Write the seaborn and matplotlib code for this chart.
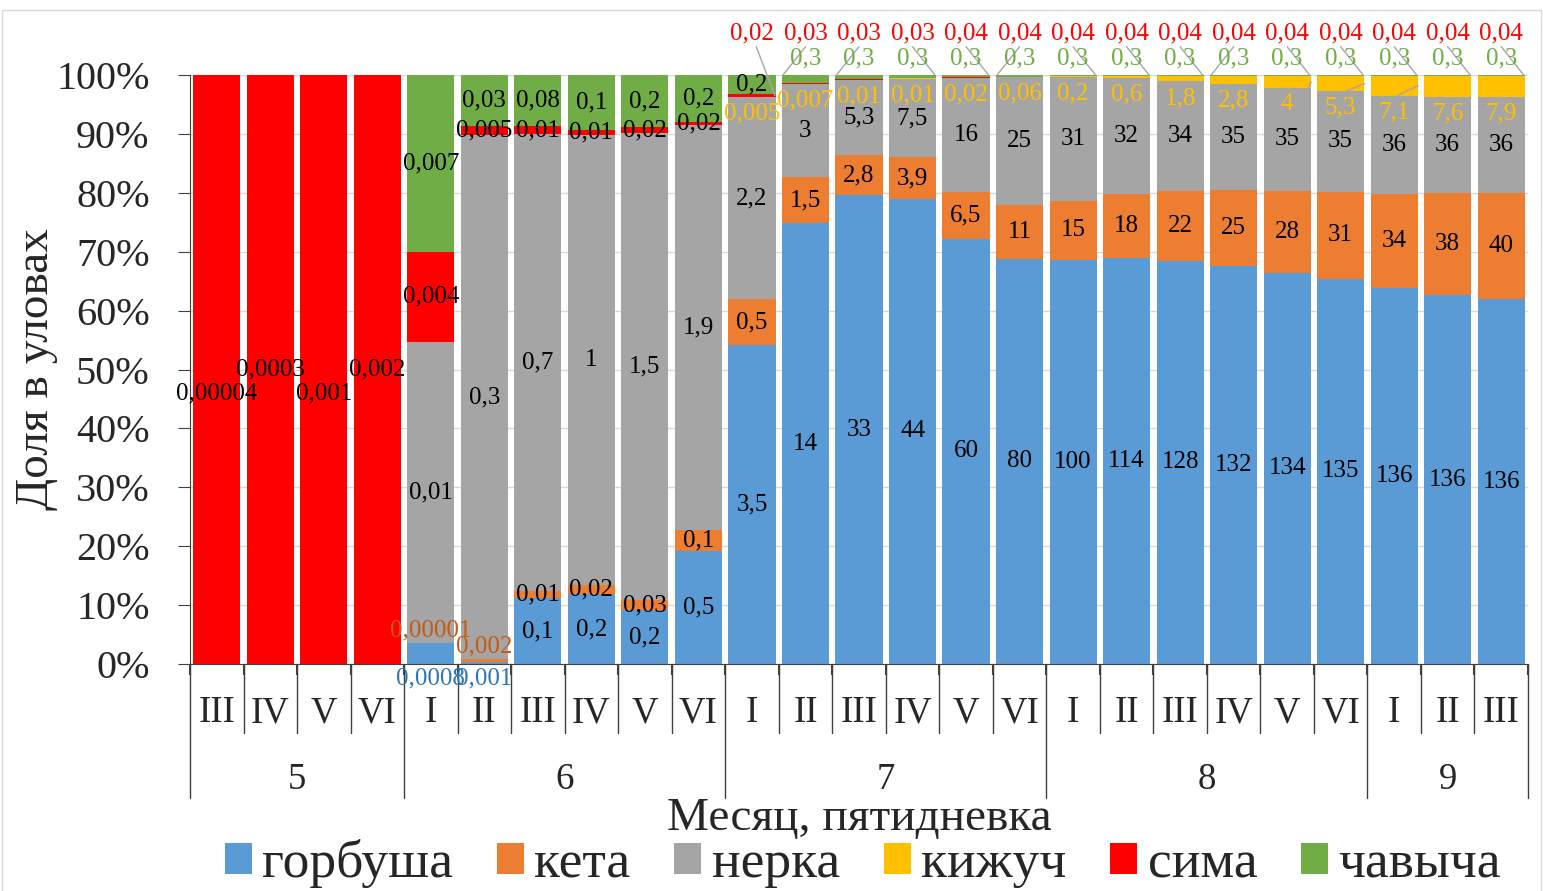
import numpy as np
import pandas as pd
import matplotlib
matplotlib.use("Agg")
import matplotlib.pyplot as plt
from matplotlib.patches import Patch, Rectangle
from matplotlib.ticker import PercentFormatter
import seaborn as sns

# месяц и пятидневка для каждого столбца
months = ["5"] * 4 + ["6"] * 6 + ["7"] * 6 + ["8"] * 6 + ["9"] * 3
pentads = ["III", "IV", "V", "VI",
           "I", "II", "III", "IV", "V", "VI",
           "I", "II", "III", "IV", "V", "VI",
           "I", "II", "III", "IV", "V", "VI",
           "I", "II", "III"]

species = ["горбуша", "кета", "нерка", "кижуч", "сима", "чавыча"]
colors = ["#5B9BD5", "#ED7D31", "#A5A5A5", "#FFC000", "#FF0000", "#70AD47"]

# доля в уловах, % (высота сегментов)
share_gorbusha = [0, 0, 0, 0, 3.5, 0.4, 11.2, 11.9, 9.1, 19.2,
                  54.2, 74.8, 79.6, 79.0, 72.2, 68.8,
                  68.6, 69.0, 68.5, 67.6, 66.4, 65.4, 63.8, 62.6, 61.9]
share_keta = [0, 0, 0, 0, 0.05, 0.45, 1.2, 1.5, 1.8, 3.6,
              7.7, 7.8, 6.8, 7.0, 7.9, 9.1,
              10.0, 10.8, 11.8, 12.8, 13.9, 14.8, 16.0, 17.3, 18.1]
share_nerka = [0, 0, 0, 0, 51.15, 88.95, 77.6, 76.4, 79.2, 68.7,
               34.3, 15.8, 12.8, 13.4, 19.45, 21.75,
               21.05, 19.64, 18.6, 18.0, 17.5, 17.07, 16.7, 16.4, 16.2]
share_kizhuch = [0, 0, 0, 0, 0, 0, 0, 0, 0, 0,
                 0.1, 0.05, 0.03, 0.02, 0.02, 0.05,
                 0.14, 0.36, 0.92, 1.43, 2.03, 2.56, 3.33, 3.54, 3.64]
share_sima = [100, 100, 100, 100, 15.3, 1.5, 1.3, 0.9, 1.0, 0.5,
              0.4, 0.15, 0.07, 0.05, 0.05, 0.04,
              0.03, 0.02, 0.02, 0.02, 0.02, 0.02, 0.02, 0.02, 0.02]
share_chavycha = [0, 0, 0, 0, 30, 8.7, 8.7, 9.3, 8.9, 8.0,
                  3.3, 1.4, 0.7, 0.53, 0.38, 0.26,
                  0.18, 0.18, 0.16, 0.15, 0.15, 0.15, 0.14, 0.14, 0.14]

# подписи данных (улов)
lab_gorbusha = [None] * 4 + ["0,0008", "0,001", "0,1", "0,2", "0,2", "0,5",
                             "3,5", "14", "33", "44", "60", "80",
                             "100", "114", "128", "132", "134", "135", "136", "136", "136"]
lab_keta = [None] * 4 + ["0,00001", "0,002", "0,01", "0,02", "0,03", "0,1",
                         "0,5", "1,5", "2,8", "3,9", "6,5", "11",
                         "15", "18", "22", "25", "28", "31", "34", "38", "40"]
lab_nerka = [None] * 4 + ["0,01", "0,3", "0,7", "1", "1,5", "1,9",
                          "2,2", "3", "5,3", "7,5", "16", "25",
                          "31", "32", "34", "35", "35", "35", "36", "36", "36"]
lab_kizhuch = [None] * 10 + ["0,005", "0,007", "0,01", "0,01", "0,02", "0,06",
                             "0,2", "0,6", "1,8", "2,8", "4", "5,3", "7,1", "7,6", "7,9"]
lab_sima = ["0,00004", "0,0003", "0,001", "0,002",
            "0,004", "0,005", "0,01", "0,01", "0,02", "0,02",
            "0,02", "0,03", "0,03", "0,03", "0,04", "0,04",
            "0,04", "0,04", "0,04", "0,04", "0,04", "0,04", "0,04", "0,04", "0,04"]
lab_chavycha = [None] * 4 + ["0,007", "0,03", "0,08", "0,1", "0,2", "0,2",
                             "0,2"] + ["0,3"] * 14

# к какому краю столбца идёт выноска подписи чавычи (с 7-II)
leader_side = [-1, -1, 1, 1, -1, 1, 1, 1, -1, 1, 1, 1, 1, 1]
# выноски подписей кижуча: столбец -> сдвиг начала выноски
kizhuch_leader = {20: 0.39, 21: 0.11, 22: 0.06}

shares = [share_gorbusha, share_keta, share_nerka, share_kizhuch, share_sima, share_chavycha]
labels = [lab_gorbusha, lab_keta, lab_nerka, lab_kizhuch, lab_sima, lab_chavycha]

period = [m + "-" + p for m, p in zip(months, pentads)]
df = pd.DataFrame(dict(zip(species, shares)))
df = df.div(df.sum(axis=1), axis=0)
cum = df.cumsum(axis=1)
df["период"] = period
n = len(period)

sns.set_style("white")
plt.rcParams["font.family"] = ["Liberation Serif", "DejaVu Serif"]

fig, ax = plt.subplots(figsize=(15.43, 8.91), dpi=100)
fig.subplots_adjust(left=190 / 1543, right=1528 / 1543, bottom=(891 - 664) / 891, top=(891 - 75) / 891)

# накопленные доли, от верхнего слоя к нижнему
for sp, col in reversed(list(zip(species, colors))):
    sns.barplot(x=df["период"], y=cum[sp], color=col, saturation=1, width=0.88,
                errorbar=None, edgecolor="none", linewidth=0, ax=ax)

ax.set_xlim(-0.5, n - 0.5)
ax.set_ylim(0, 1)
ax.set_yticks(np.arange(0, 1.01, 0.1))
ax.yaxis.set_major_formatter(PercentFormatter(1.0, decimals=0))
ax.tick_params(axis="y", labelsize=29, length=9, pad=20, color="#404040", direction="out", left=True)
ax.yaxis.grid(True, color="#D9D9D9", lw=1)
ax.set_axisbelow(True)
sns.despine(ax=ax, top=True, right=True)
ax.spines["left"].set_color("#404040")
ax.spines["bottom"].set_color("#404040")

# двухуровневая ось X
ax.set_xticks([])
ax.set_xticks(np.arange(-0.5, n, 1), minor=True)
ax.tick_params(axis="x", which="minor", length=8, width=1.5, color="#404040", bottom=True)
ax.set_xlabel("")
trans = ax.get_xaxis_transform()
for i, p in enumerate(pentads):
    ax.text(i, -0.083, p, transform=trans, ha="center", va="center", fontsize=26.5)
for b in range(n + 1):
    long_line = b in (0, n) or months[b] != months[b - 1]
    ax.plot([b - 0.5, b - 0.5], [0, -0.2275 if long_line else -0.117], transform=trans,
            color="#404040", lw=1, clip_on=False)
for m in dict.fromkeys(months):
    idx = [i for i, mm in enumerate(months) if mm == m]
    ax.text(np.mean(idx), -0.196, m, transform=trans, ha="center", va="center", fontsize=26.5)

ax.set_xlabel("Месяц, пятидневка", fontsize=34)
ax.xaxis.set_label_coords(0.5, -0.226)
ax.set_ylabel("Доля в уловах", fontsize=34)
ax.yaxis.set_label_coords(-0.099, 0.5)

# подписи данных
side_iter = iter(leader_side)
for i in range(n):
    for k, sp in enumerate(species):
        lab = labels[k][i]
        top = cum[sp].iloc[i]
        bottom = top - df[sp].iloc[i]
        if lab is None:
            continue
        x, y, c = i, (bottom + top) / 2, "black"
        if sp == "сима" and i < 4:
            y = 0.5 - (0.04 if i % 2 == 0 else 0.0)
        elif sp == "горбуша" and i in (4, 5):
            y, c = -0.025, "#2E75B6"
        elif sp == "кета" and i in (4, 5):
            y, c = top + 0.022, "#C55A11"
        elif sp == "кижуч":
            y, c = bottom - 0.028, "#FFC000"
            if i in kizhuch_leader:
                ax.plot([i + kizhuch_leader[i], i + 0.45], [bottom, (bottom + top) / 2],
                        color="#A6A6A6", lw=1)
        elif sp == "сима" and i >= 10:
            y, c = 1.071, "#FF0000"
            if i == 10:
                ax.plot([i + 0.08, i + 0.43], [1.048, top - 0.002], color="#A6A6A6", lw=1, clip_on=False)
        elif sp == "чавыча" and i >= 11:
            y, c = 1.028, "#70AD47"
            s = next(side_iter)
            ax.plot([i, i + s * 0.42], [1.048, 1.0], color="#A6A6A6", lw=1, clip_on=False)
        ax.text(x, y, lab, ha="center", va="center", fontsize=18, color=c, clip_on=False)

handles = [Patch(facecolor=c, edgecolor="none") for c in colors]
fig.legend(handles, species, loc="center", bbox_to_anchor=(863 / 1543, 1 - 864 / 891), ncol=6,
           frameon=False, fontsize=38.5, handlelength=0.5, handleheight=0.5,
           handletextpad=0.2, columnspacing=0.82, borderpad=0)

fig.patches.append(Rectangle((2 / 1543, -0.05), 1 - 4 / 1543, 1.05 - 10 / 891, transform=fig.transFigure,
                             fill=False, edgecolor="#D9D9D9", lw=1))

fig.savefig("out.png", dpi=100)
